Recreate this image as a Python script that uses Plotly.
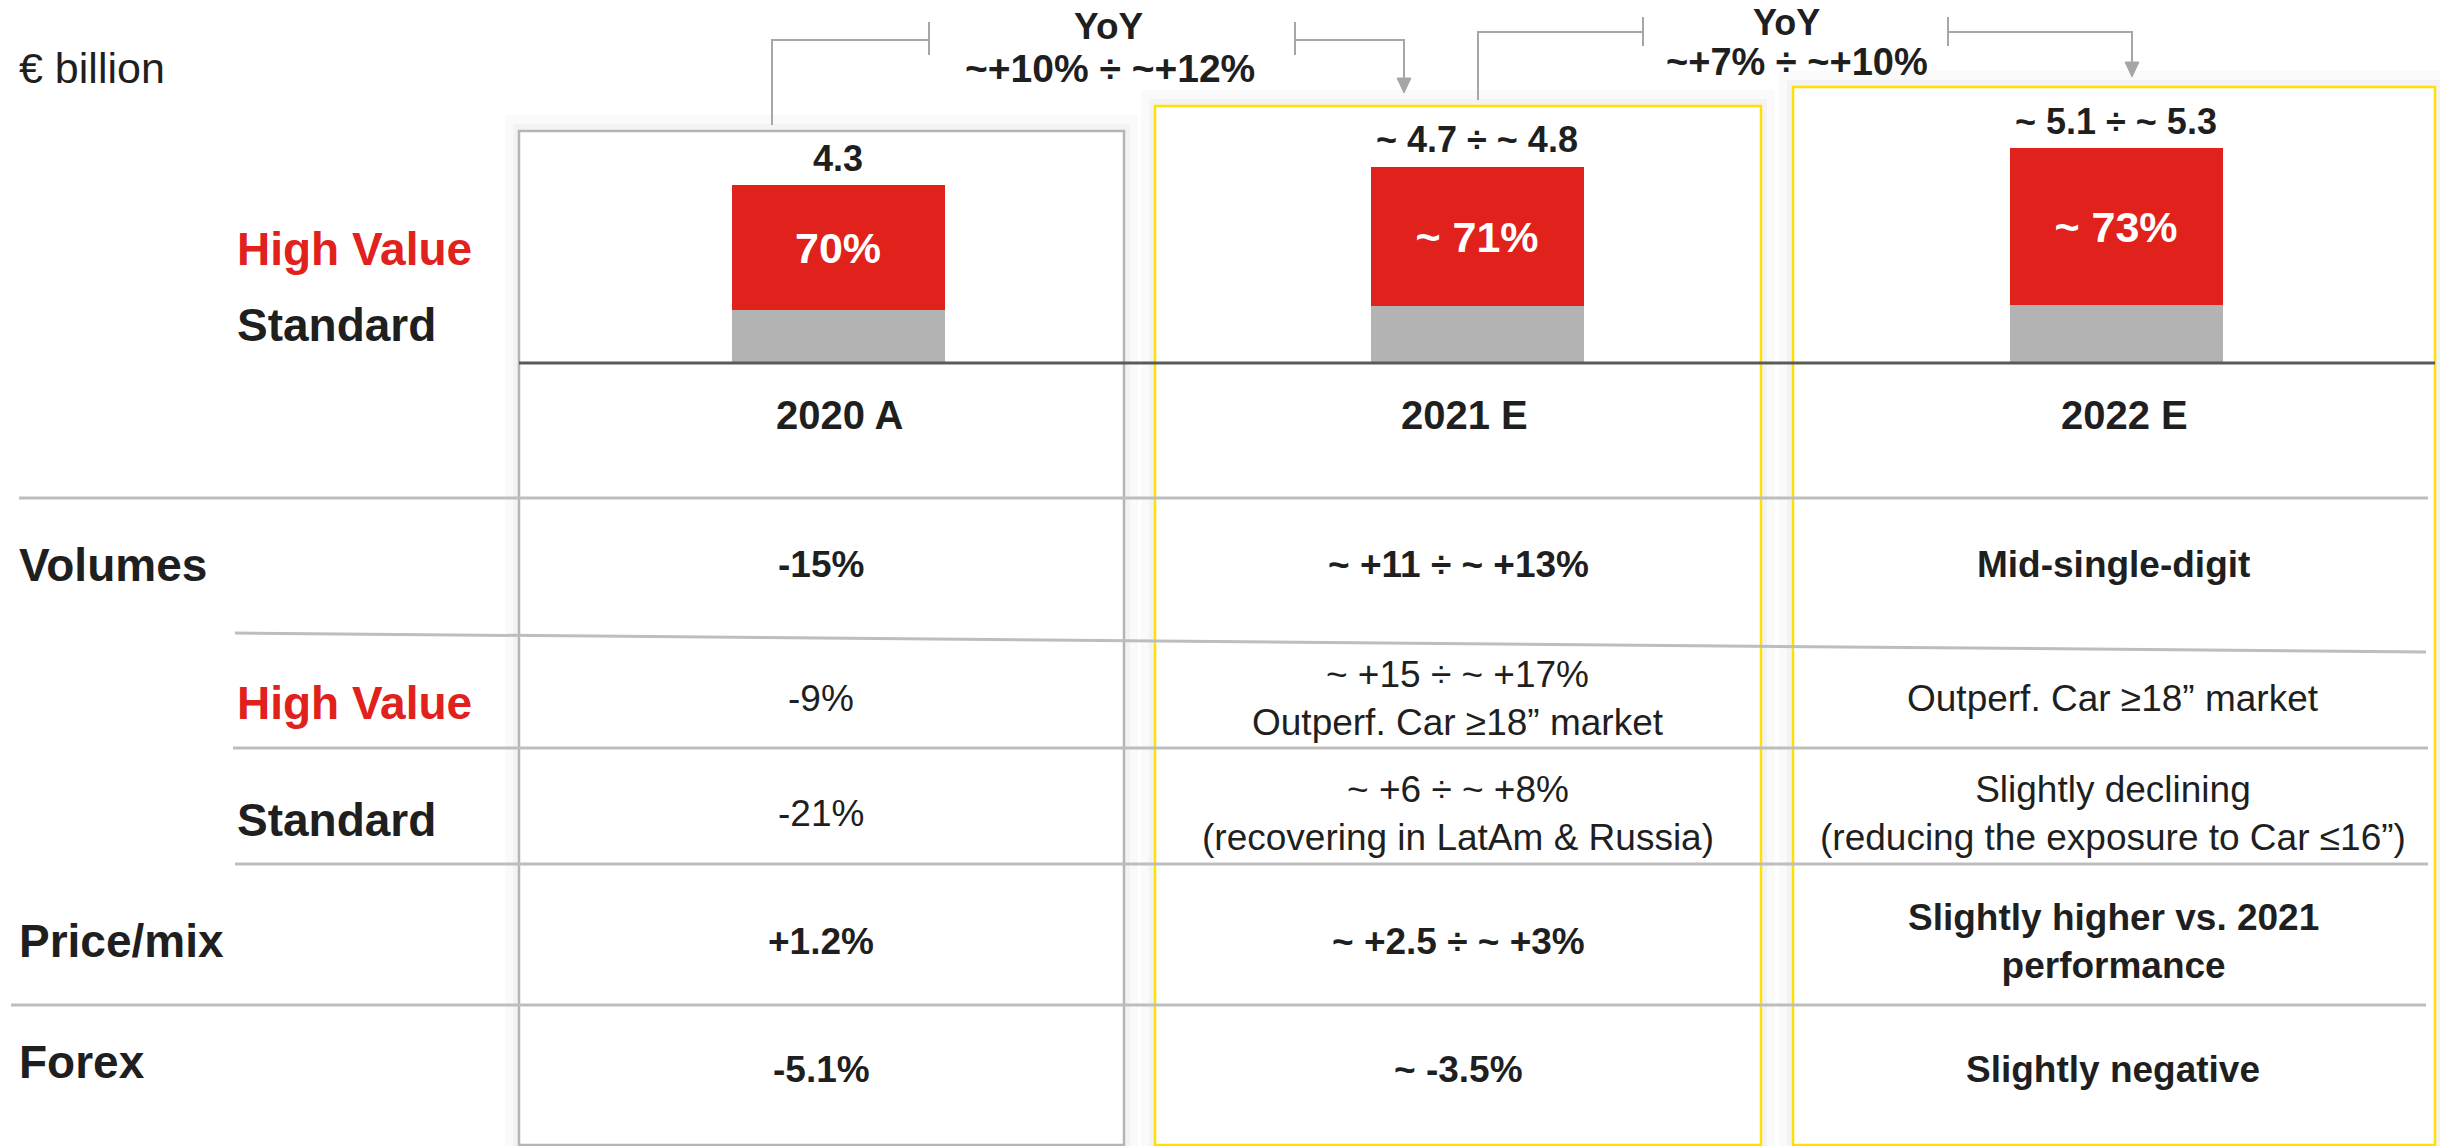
import plotly.graph_objects as go

W, H = 2440, 1146

# ---------------- data ----------------
years = ["2020 A", "2021 E", "2022 E"]
totals = [4.3, 4.75, 5.2]
total_labels = ["4.3", "~ 4.7 ÷ ~ 4.8", "~ 5.1 ÷ ~ 5.3"]
high_value_share = [0.70, 0.71, 0.73]
high_value_labels = ["70%", "~ 71%", "~ 73%"]
yoy_labels = ["~+10% ÷ ~+12%", "~+7% ÷ ~+10%"]
unit_label = "€ billion"
legend_labels = ["High Value", "Standard"]
row_labels = ["Volumes", "High Value", "Standard", "Price/mix", "Forex"]
volumes = ["-15%", "~ +11 ÷ ~ +13%", "Mid-single-digit"]
high_value_growth = ["-9%", "~ +15 ÷ ~ +17%<br>Outperf. Car ≥18” market", "Outperf. Car ≥18” market"]
standard_growth = ["-21%", "~ +6 ÷ ~ +8%<br>(recovering in LatAm & Russia)",
                   "Slightly declining<br>(reducing the exposure to Car ≤16”)"]
price_mix = ["+1.2%", "~ +2.5 ÷ ~ +3%", "Slightly higher vs. 2021<br>performance"]
forex = ["-5.1%", "~ -3.5%", "Slightly negative"]
table_rows = [volumes, high_value_growth, standard_growth, price_mix, forex]

high_value_vals = [t * s for t, s in zip(totals, high_value_share)]
standard_vals = [t - h for t, h in zip(totals, high_value_vals)]

# ---------------- styles / layout ----------------
FONT = "Liberation Sans, Arial, Helvetica, sans-serif"
RED = "#E0211C"
GREY_BAR = "#B3B3B3"
DARK = "#1F1F1F"
YELLOW = "#FFE000"
BOX_GREY = "#B5B5B5"
LINE_GREY = "#BDBDBD"
CONN = "#A6A6A6"
BASE = "#5A5A5A"


def px(x):
    return x / W


def py(y):
    return 1 - y / H


baseline_px = 363
px_per_unit = 41.3
bar_left, bar_right = 518.5, 2435.5

fig = go.Figure()
fig.add_trace(go.Bar(x=years, y=standard_vals, marker=dict(color=GREY_BAR, line=dict(width=0)),
                     width=0.332, hoverinfo="skip", showlegend=False))
fig.add_trace(go.Bar(x=years, y=high_value_vals, marker=dict(color=RED, line=dict(width=0)),
                     width=0.332, text=high_value_labels, texttemplate="<b>%{text}</b>",
                     textposition="inside", insidetextanchor="middle",
                     textfont=dict(family=FONT, size=43, color="white"),
                     hoverinfo="skip", showlegend=False))

shapes = []
# shadows + boxes
boxes = [(519, 1124, 131, BOX_GREY), (1155, 1761, 106, YELLOW), (1793, 2435, 87, YELLOW)]
for x0, x1, y0, col in boxes:
    shapes.append(dict(type="rect", xref="paper", yref="paper", layer="below",
                       x0=px(x0 - 14), x1=px(x1 + 14), y0=py(y0 - 16), y1=py(H),
                       fillcolor="#FAFAFA", line=dict(width=0)))
    shapes.append(dict(type="rect", xref="paper", yref="paper", layer="below",
                       x0=px(x0 - 6), x1=px(x1 + 6), y0=py(y0 - 7), y1=py(H),
                       fillcolor="#F3F3F3", line=dict(width=0)))
for x0, x1, y0, col in boxes:
    shapes.append(dict(type="rect", xref="paper", yref="paper", layer="below",
                       x0=px(x0), x1=px(x1), y0=py(y0), y1=py(1145),
                       fillcolor="white", line=dict(color=col, width=2.5)))

# table lines
table_lines = [((19, 498), (2428, 498)), ((235, 633), (2426, 652)), ((233, 748), (2428, 748)),
               ((235, 864), (2428, 864)), ((11, 1005), (2426, 1005))]
for (xa, ya), (xb, yb) in table_lines:
    shapes.append(dict(type="line", xref="paper", yref="paper", layer="below",
                       x0=px(xa), y0=py(ya), x1=px(xb), y1=py(yb),
                       line=dict(color=LINE_GREY, width=3)))

# baseline of bars
shapes.append(dict(type="line", xref="paper", yref="paper", layer="above",
                   x0=px(519), x1=px(2435), y0=py(baseline_px), y1=py(baseline_px),
                   line=dict(color=BASE, width=3)))

# YoY connectors
connectors = [
    dict(path=[(772, 125), (772, 40), (929, 40)], tick1=929, tick2=1295, ty=(22, 55),
         path2=[(1295, 40), (1404, 40), (1404, 80)], arrow=(1404, 78, 93)),
    dict(path=[(1478, 100), (1478, 32), (1643, 32)], tick1=1643, tick2=1948, ty=(17, 46),
         path2=[(1948, 32), (2132, 32), (2132, 64)], arrow=(2132, 62, 77)),
]


def path_str(pts):
    return "M " + " L ".join(f"{px(x)},{py(y)}" for x, y in pts)


for c in connectors:
    for pts in (c["path"], c["path2"]):
        shapes.append(dict(type="path", xref="paper", yref="paper", path=path_str(pts),
                           line=dict(color=CONN, width=2)))
    for tx in (c["tick1"], c["tick2"]):
        shapes.append(dict(type="line", xref="paper", yref="paper",
                           x0=px(tx), x1=px(tx), y0=py(c["ty"][0]), y1=py(c["ty"][1]),
                           line=dict(color=CONN, width=2)))
    ax, ay0, ay1 = c["arrow"]
    tri = [(ax - 7, ay0), (ax + 7, ay0), (ax, ay1)]
    shapes.append(dict(type="path", xref="paper", yref="paper", path=path_str(tri) + " Z",
                       fillcolor=CONN, line=dict(color=CONN, width=1)))

annotations = []


def add_text(text, x, y, size, color=DARK, bold=False, xanchor="center", yanchor="middle"):
    t = f"<b>{text}</b>" if bold else text
    annotations.append(dict(text=t, x=px(x), y=py(y), xref="paper", yref="paper",
                            xanchor=xanchor, yanchor=yanchor, showarrow=False,
                            align="center", font=dict(family=FONT, size=size, color=color)))


add_text(unit_label, 17, 68, 43, xanchor="left")

# YoY labels
add_text("YoY", 1109, 27, 37, bold=True)
add_text(yoy_labels[0], 1110, 69, 39, bold=True)
add_text("YoY", 1786, 0, 36, bold=True, yanchor="top")
add_text(yoy_labels[1], 1797, 62, 38, bold=True)

# total labels above bars
for yr, tot, lab in zip(years, totals, total_labels):
    annotations.append(dict(text=f"<b>{lab}</b>", x=yr, y=tot, xref="x", yref="y",
                            xanchor="center", yanchor="middle", yshift=27, showarrow=False,
                            font=dict(family=FONT, size=36, color=DARK)))

# legend labels left of bars
add_text(legend_labels[0], 235, 249, 46, color=RED, bold=True, xanchor="left")
add_text(legend_labels[1], 235, 325, 46, color=DARK, bold=True, xanchor="left")

# year labels
year_x = [840, 1464, 2124]
for yr, x in zip(years, year_x):
    add_text(yr, x, 415, 40, bold=True)

# row labels
row_label_pos = [(17, 565), (235, 703), (235, 820), (17, 941), (17, 1062)]
row_label_col = [DARK, RED, DARK, DARK, DARK]
for lab, (x, y), col in zip(row_labels, row_label_pos, row_label_col):
    add_text(lab, x, y, 46, color=col, bold=True, xanchor="left")

# table cells
col_x = [821, 1458, 2113]
row_y = [564, 698, 813, 941, 1069]
row_bold = [True, False, False, True, True]
for cells, y, b in zip(table_rows, row_y, row_bold):
    for txt, x in zip(cells, col_x):
        add_text(txt, x, y, 37, bold=b)

fig.update_layout(
    width=W, height=H, margin=dict(l=0, r=0, t=0, b=0),
    paper_bgcolor="white", plot_bgcolor="rgba(0,0,0,0)",
    barmode="stack", bargap=0, showlegend=False,
    xaxis=dict(domain=[px(bar_left), px(bar_right)], range=[-0.5, 2.5], type="category",
               categoryorder="array", categoryarray=years,
               showgrid=False, zeroline=False, showticklabels=False, showline=False, fixedrange=True),
    yaxis=dict(domain=[py(baseline_px), 1], range=[0, baseline_px / px_per_unit],
               showgrid=False, zeroline=False, showticklabels=False, showline=False, fixedrange=True),
    shapes=shapes, annotations=annotations,
    uniformtext=dict(minsize=10),
)

fig.write_html("out.html", config={"displayModeBar": False},
               post_script="document.body.style.margin='0';")
